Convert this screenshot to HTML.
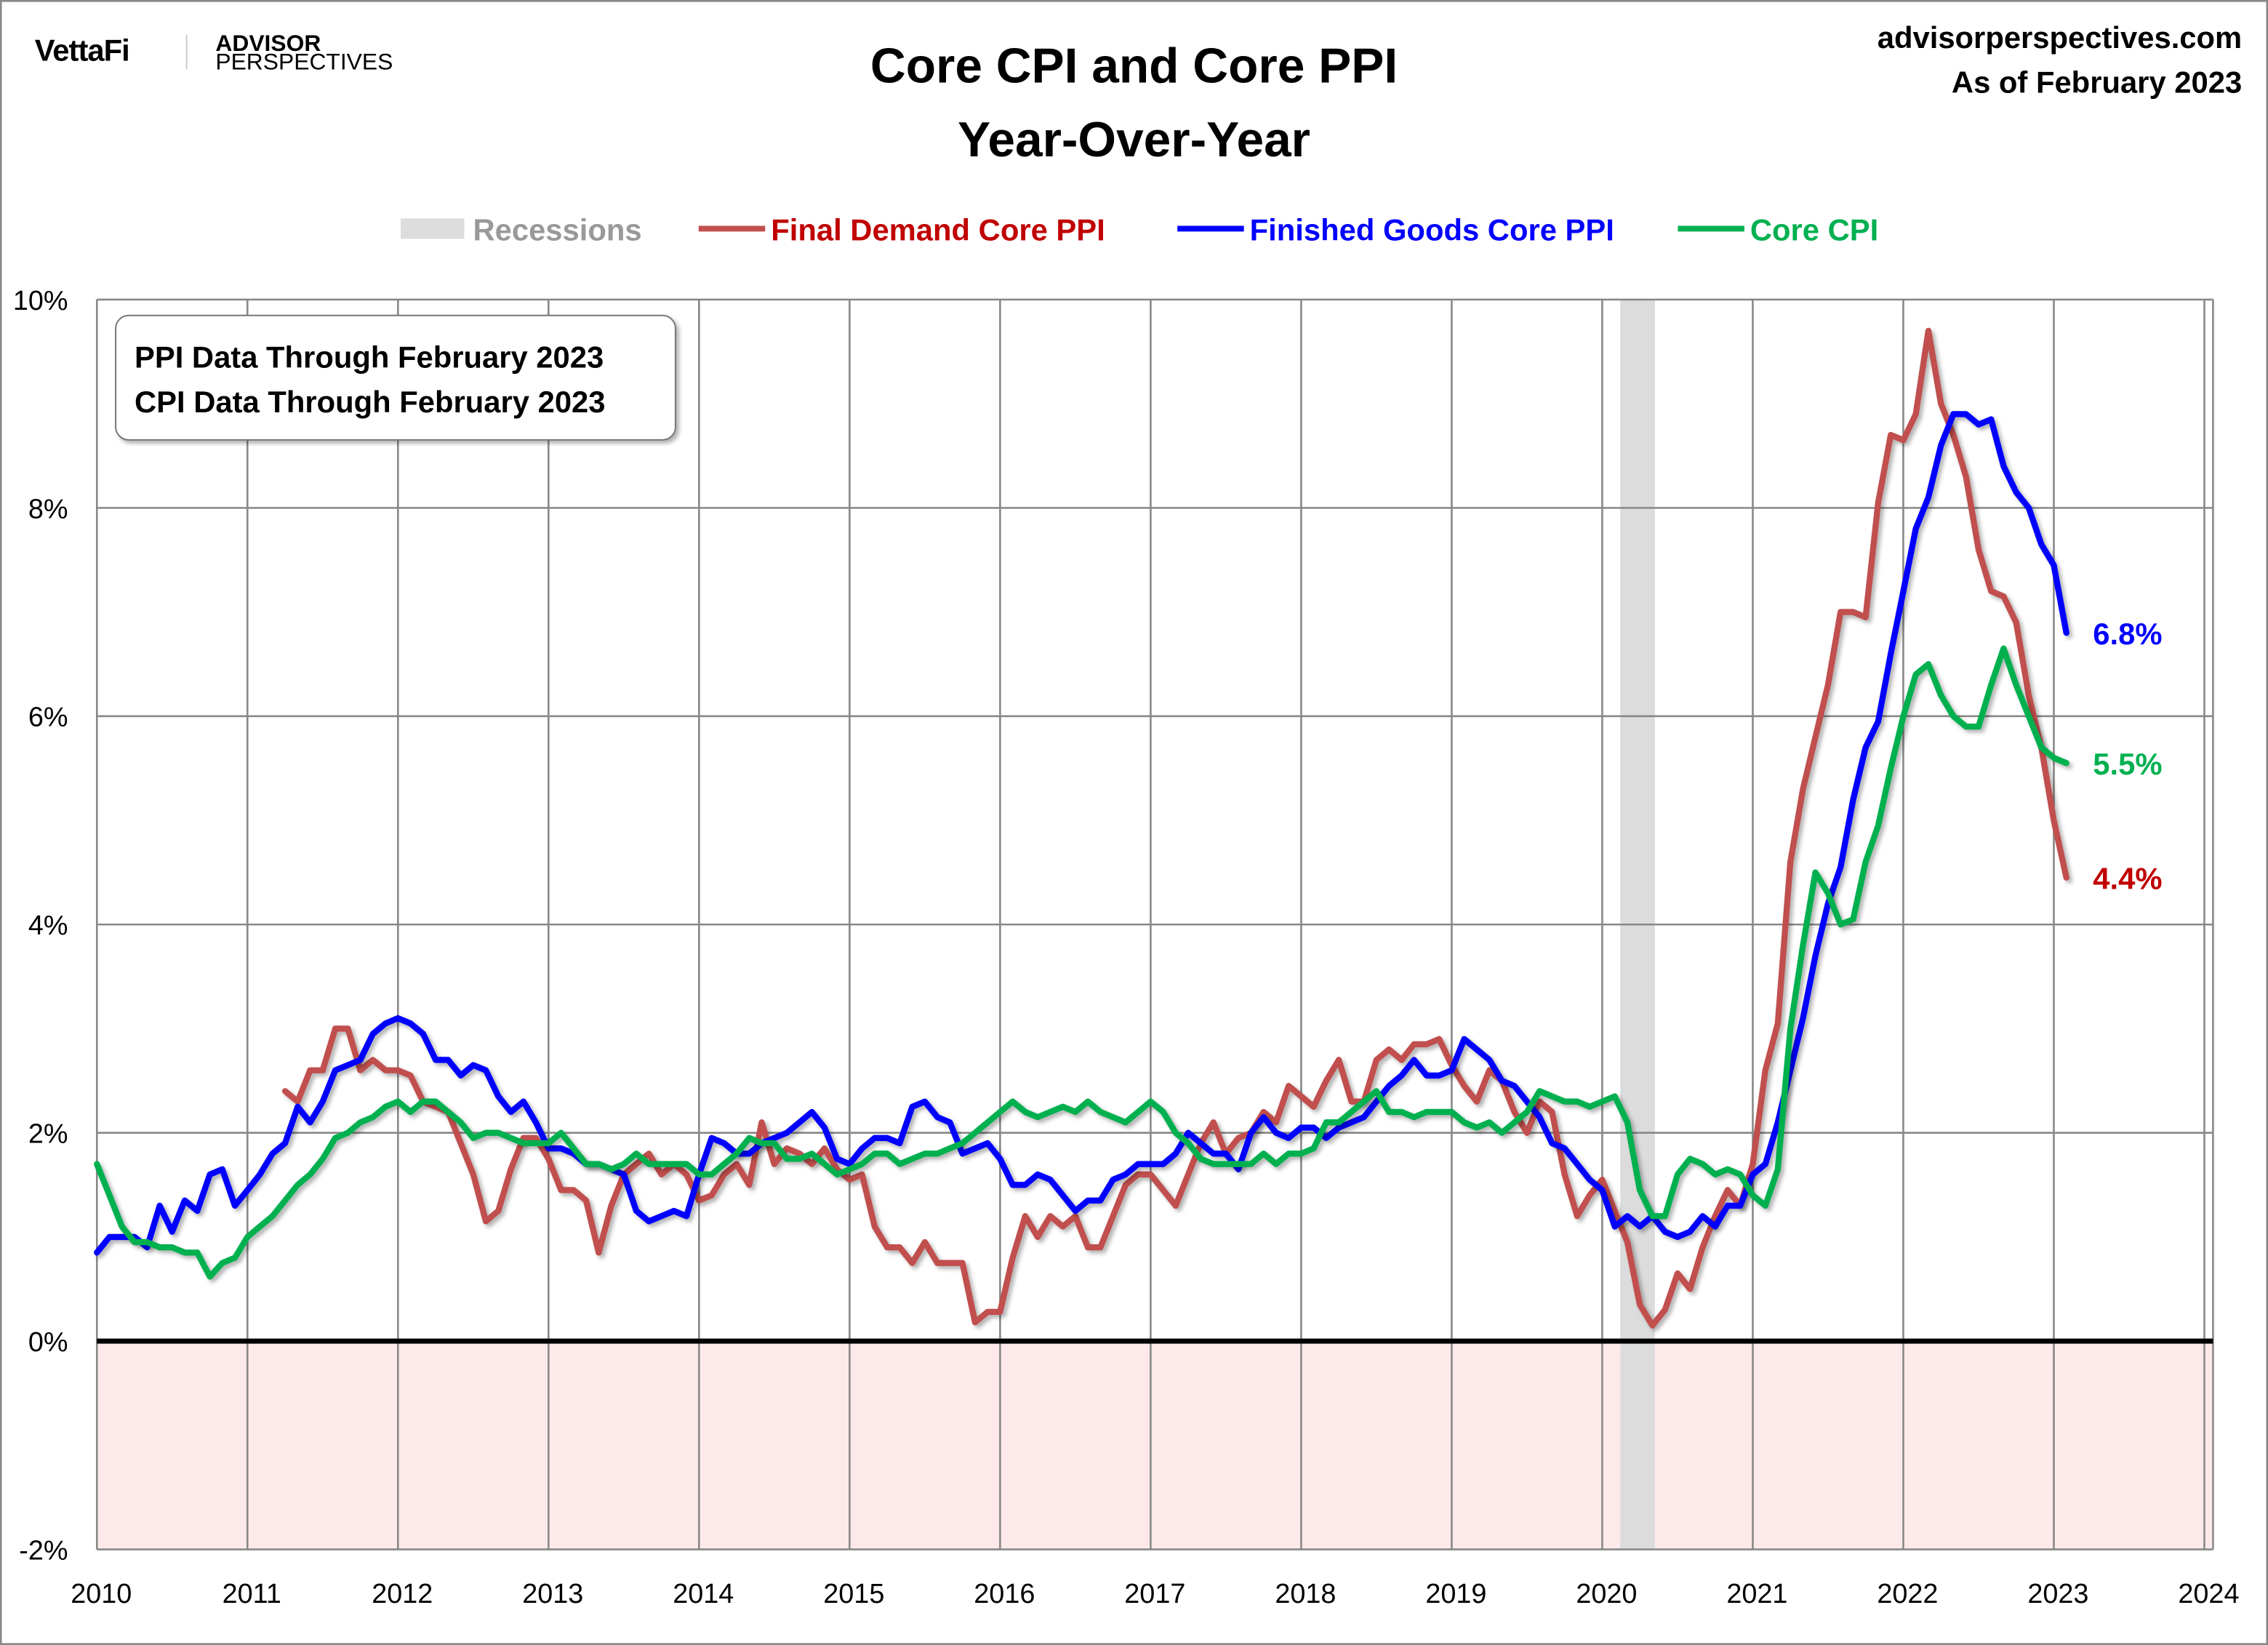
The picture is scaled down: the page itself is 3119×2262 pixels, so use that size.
<!DOCTYPE html>
<html><head><meta charset="utf-8"><style>
html,body{margin:0;padding:0;background:#fff}
svg{display:block;font-family:"Liberation Sans",sans-serif}
</style></head><body>
<svg id="chart" width="3119" height="2262" viewBox="0 0 1568 1137" xmlns="http://www.w3.org/2000/svg">
<defs><filter id="sh" x="-5%" y="-5%" width="110%" height="110%"><feDropShadow dx="2" dy="2" stdDeviation="1.5" flood-color="#000" flood-opacity="0.3"/></filter></defs>
<rect x="0.5" y="0.5" width="1567" height="1136" fill="#fff" stroke="#888" stroke-width="1.5"/>
<g>
<text x="24" y="42" font-size="21" font-weight="bold" letter-spacing="-0.5">VettaFi</text>
<line x1="129" y1="24" x2="129" y2="48" stroke="#ccc" stroke-width="1"/>
<text x="149" y="35" font-size="16" font-weight="bold">ADVISOR</text>
<text x="149" y="48" font-size="16">PERSPECTIVES</text>
</g>
<text x="784" y="57" font-size="34" font-weight="bold" text-anchor="middle">Core CPI and Core PPI</text>
<text x="784" y="108" font-size="34" font-weight="bold" text-anchor="middle">Year-Over-Year</text>
<text x="1550" y="33" font-size="21" font-weight="bold" text-anchor="end">advisorperspectives.com</text>
<text x="1550" y="64" font-size="21" font-weight="bold" text-anchor="end">As of February 2023</text>
<g font-size="21" font-weight="bold">
<rect x="277" y="151" width="44" height="14" fill="#ddd"/>
<text x="327" y="166" fill="#999">Recessions</text>
<line x1="483" y1="158" x2="529" y2="158" stroke="#c0504d" stroke-width="4"/>
<text x="533" y="166" fill="#c00000">Final Demand Core PPI</text>
<line x1="814" y1="158" x2="860" y2="158" stroke="#0000ff" stroke-width="4"/>
<text x="864" y="166" fill="#0000ff">Finished Goods Core PPI</text>
<line x1="1160" y1="158" x2="1206" y2="158" stroke="#00b050" stroke-width="4"/>
<text x="1210" y="166" fill="#00b050">Core CPI</text>
</g>
<g id="plot"></g>
<g filter="url(#sh)">
<rect x="80" y="218" width="387" height="86" rx="9" fill="#fff" stroke="#777" stroke-width="1"/>
</g>
<text x="93" y="254" font-size="21" font-weight="bold">PPI Data Through February 2023</text>
<text x="93" y="285" font-size="21" font-weight="bold">CPI Data Through February 2023</text>
</svg>
<script>
const yearTicks=[2010,2011,2012,2013,2014,2015,2016,2017,2018,2019,2020,2021,2022,2023,2024];
const yTicks=[-2,0,2,4,6,8,10];
const recession=[2020.12,2020.35];
const coreCPI=[1.7,1.4,1.1,0.95,0.95,0.9,0.9,0.85,0.85,0.62,0.75,0.8,
1.0,1.1,1.2,1.35,1.5,1.6,1.75,1.95,2.0,2.1,2.15,2.25,
2.3,2.2,2.3,2.3,2.2,2.1,1.95,2.0,2.0,1.95,1.9,1.9,
1.9,2.0,1.85,1.7,1.7,1.65,1.7,1.8,1.7,1.7,1.7,1.7,
1.6,1.6,1.7,1.8,1.95,1.9,1.9,1.75,1.75,1.8,1.7,1.6,
1.65,1.7,1.8,1.8,1.7,1.75,1.8,1.8,1.85,1.9,2.0,2.1,
2.2,2.3,2.2,2.15,2.2,2.25,2.2,2.3,2.2,2.15,2.1,2.2,
2.3,2.2,2.0,1.9,1.75,1.7,1.7,1.7,1.7,1.8,1.7,1.8,
1.8,1.85,2.1,2.1,2.2,2.3,2.4,2.2,2.2,2.15,2.2,2.2,
2.2,2.1,2.05,2.1,2.0,2.1,2.2,2.4,2.35,2.3,2.3,2.25,
2.3,2.35,2.1,1.45,1.2,1.2,1.6,1.75,1.7,1.6,1.65,1.6,
1.4,1.3,1.65,3.0,3.8,4.5,4.3,4.0,4.05,4.6,4.95,5.5,
6.0,6.4,6.5,6.2,6.0,5.9,5.9,6.3,6.65,6.3,6.0,5.7,
5.6,5.55];
const finishedGoodsPPI=[0.85,1.0,1.0,1.0,0.9,1.3,1.05,1.35,1.25,1.6,1.65,1.3,
1.45,1.6,1.8,1.9,2.25,2.1,2.3,2.6,2.65,2.7,2.95,3.05,
3.1,3.05,2.95,2.7,2.7,2.55,2.65,2.6,2.35,2.2,2.3,2.1,
1.85,1.85,1.8,1.7,1.7,1.65,1.6,1.25,1.15,1.2,1.25,1.2,
1.6,1.95,1.9,1.8,1.8,1.9,1.95,2.0,2.1,2.2,2.05,1.75,
1.7,1.85,1.95,1.95,1.9,2.25,2.3,2.15,2.1,1.8,1.85,1.9,
1.75,1.5,1.5,1.6,1.55,1.4,1.25,1.35,1.35,1.55,1.6,1.7,
1.7,1.7,1.8,2.0,1.9,1.8,1.8,1.65,2.0,2.15,2.0,1.95,
2.05,2.05,1.95,2.05,2.1,2.15,2.3,2.45,2.55,2.7,2.55,2.55,
2.6,2.9,2.8,2.7,2.5,2.45,2.3,2.15,1.9,1.85,1.7,1.55,
1.45,1.1,1.2,1.1,1.2,1.05,1.0,1.05,1.2,1.1,1.3,1.3,
1.6,1.7,2.1,2.6,3.1,3.7,4.2,4.55,5.2,5.7,5.95,6.6,
7.2,7.8,8.1,8.6,8.9,8.9,8.8,8.85,8.4,8.15,8.0,7.65,
7.45,6.8];
const finalDemandPPI=[null,null,null,null,null,null,null,null,null,null,null,null,
null,null,null,2.4,2.3,2.6,2.6,3.0,3.0,2.6,2.7,2.6,
2.6,2.55,2.3,2.25,2.2,1.9,1.6,1.15,1.25,1.65,1.95,1.95,
1.75,1.45,1.45,1.35,0.85,1.3,1.6,1.7,1.8,1.6,1.7,1.6,
1.35,1.4,1.6,1.7,1.5,2.1,1.7,1.85,1.8,1.7,1.85,1.65,
1.55,1.6,1.1,0.9,0.9,0.75,0.95,0.75,0.75,0.75,0.18,0.28,
0.28,0.8,1.2,1.0,1.2,1.1,1.2,0.9,0.9,1.2,1.5,1.6,
1.6,1.45,1.3,1.6,1.9,2.1,1.8,1.95,2.0,2.2,2.1,2.45,
2.35,2.25,2.5,2.7,2.3,2.3,2.7,2.8,2.7,2.85,2.85,2.9,
2.65,2.45,2.3,2.6,2.5,2.2,2.0,2.3,2.2,1.6,1.2,1.4,
1.55,1.25,0.95,0.35,0.15,0.3,0.65,0.5,0.9,1.2,1.45,1.3,
1.7,2.6,3.05,4.6,5.3,5.8,6.3,7.0,7.0,6.95,8.05,8.7,
8.65,8.9,9.7,9.0,8.7,8.3,7.6,7.2,7.15,6.9,6.2,5.7,
5.0,4.45];
const endLabels=["6.8%","5.5%","4.4%"];

const NS="http://www.w3.org/2000/svg";
const X0=67,X24=1524,XR=1530,Y0=927,PX=72;
const xs=t=>X0+(t-2010)*(X24-X0)/14;
const ys=v=>Y0-v*PX;
const plot=document.getElementById('plot');
function mk(tag,attrs,parent){const e=document.createElementNS(NS,tag);for(const k in attrs)e.setAttribute(k,attrs[k]);(parent||plot).appendChild(e);return e;}
let e;
e=mk('rect',{x:X0,y:ys(0),width:XR-X0,height:ys(-2)-ys(0),fill:'#fde9ea'});


e=mk('rect',{x:xs(recession[0]),y:ys(10),width:xs(recession[1])-xs(recession[0]),height:ys(-2)-ys(10),fill:'#dcdcdc'});


yTicks.forEach(v=>{
 e=mk('line',{x1:X0,x2:XR,y1:ys(v),y2:ys(v),stroke:'#888','stroke-width':1.3});
 
 
 e=mk('text',{x:X0-20,y:ys(v)+7,'font-size':19,'text-anchor':'end'});
 e.textContent=v+'%';
 
 
});
yearTicks.forEach(yr=>{
 e=mk('line',{x1:xs(yr),x2:xs(yr),y1:ys(10),y2:ys(-2),stroke:'#888','stroke-width':1.3});
 
 
 e=mk('text',{x:xs(yr)+3,y:1108,'font-size':19,'text-anchor':'middle'});
 e.textContent=yr;
 
 
});
e=mk('line',{x1:XR,x2:XR,y1:ys(10),y2:ys(-2),stroke:'#888','stroke-width':1.3});


e=mk('line',{x1:X0,x2:XR,y1:ys(0),y2:ys(0),stroke:'#000','stroke-width':3.5});


function series(arr,color,name){
 let d='';let pen=false;
 arr.forEach((v,i)=>{if(v==null){pen=false;return;}const t=2010+i/12;d+=(pen?'L':'M')+xs(t).toFixed(1)+','+ys(v).toFixed(1);pen=true;});
 const p=mk('path',{d:d,fill:'none',stroke:color,'stroke-width':4.2,'stroke-linejoin':'round','stroke-linecap':'round',filter:'url(#sh)'});
 
 
 return arr[arr.length-1];
}
const lc=series(finalDemandPPI,'#c0504d','line-final-demand-core-ppi');
const lb=series(finishedGoodsPPI,'#0000ff','line-finished-goods-core-ppi');
const lg=series(coreCPI,'#00b050','line-core-cpi');
[[lb,'#0000ff',endLabels[0],'end-label-finished-goods'],[lg,'#00b050',endLabels[1],'end-label-core-cpi'],[lc,'#c00000',endLabels[2],'end-label-final-demand']].forEach(a=>{
 e=mk('text',{x:1447,y:ys(a[0])+8,'font-size':21,'font-weight':'bold',fill:a[1]});
 e.textContent=a[2];
 
 
});
</script>
</body></html>
